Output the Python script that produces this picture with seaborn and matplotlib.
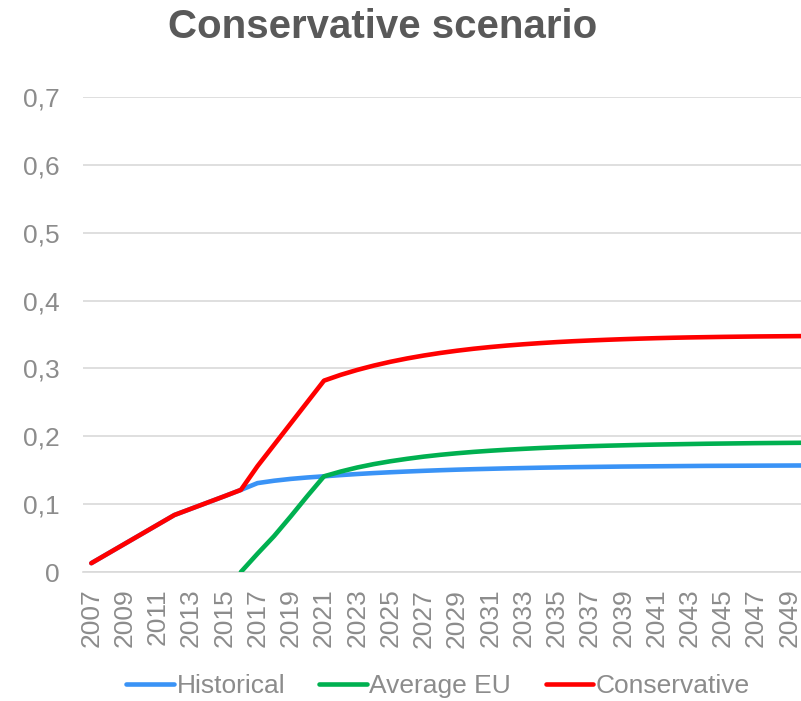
import numpy as np
import pandas as pd
import matplotlib
matplotlib.use("Agg")
import matplotlib.pyplot as plt
import seaborn as sns
from matplotlib.lines import Line2D

years = list(range(2007, 2051))

historical = [0.0130, 0.0272, 0.0414, 0.0556, 0.0698, 0.0840, 0.0932, 0.1024, 0.1116, 0.1210,
              0.1310, 0.1345, 0.1372, 0.1393, 0.1410, 0.1428, 0.1444, 0.1458, 0.1470, 0.1481,
              0.1491, 0.1500, 0.1508, 0.1515, 0.1521, 0.1527, 0.1532, 0.1537, 0.1541, 0.1545,
              0.1548, 0.1551, 0.1554, 0.1556, 0.1558, 0.1560, 0.1562, 0.1564, 0.1565, 0.1566,
              0.1567, 0.1568, 0.1569, 0.1570]

average_eu = [None] * 9 + [
              0.0000, 0.0270, 0.0530, 0.0820, 0.1120, 0.1410, 0.1480, 0.1540, 0.1590, 0.1632,
              0.1668, 0.1700, 0.1727, 0.1750, 0.1770, 0.1787, 0.1802, 0.1815, 0.1827, 0.1837,
              0.1846, 0.1854, 0.1861, 0.1867, 0.1873, 0.1878, 0.1882, 0.1886, 0.1890, 0.1893,
              0.1896, 0.1899, 0.1901, 0.1903, 0.1905]

conservative = [0.0130, 0.0272, 0.0414, 0.0556, 0.0698, 0.0840, 0.0932, 0.1024, 0.1116, 0.1210,
                0.1560, 0.1875, 0.2190, 0.2505, 0.2820, 0.2905, 0.2978, 0.3042, 0.3098, 0.3147,
                0.3190, 0.3228, 0.3261, 0.3290, 0.3315, 0.3337, 0.3356, 0.3373, 0.3388, 0.3401,
                0.3412, 0.3422, 0.3431, 0.3439, 0.3446, 0.3452, 0.3457, 0.3461, 0.3465, 0.3468,
                0.3471, 0.3473, 0.3475, 0.3477]

series_names = ["Historical", "Average EU", "Conservative"]
series_colors = ["#3A93F6", "#00B050", "#FF0000"]
y_ticks = [0, 0.1, 0.2, 0.3, 0.4, 0.5, 0.6, 0.7]
y_tick_labels = ["0", "0,1", "0,2", "0,3", "0,4", "0,5", "0,6", "0,7"]
x_ticks = list(range(2007, 2050, 2))
title = "Conservative scenario"

rows = []
for name, vals in zip(series_names, [historical, average_eu, conservative]):
    for yr, v in zip(years, vals):
        if v is not None:
            rows.append({"Year": yr, "Value": v, "Series": name})
df = pd.DataFrame(rows)

sns.set_theme(style="white")
plt.rcParams["font.family"] = ["Liberation Sans", "DejaVu Sans"]

fig = plt.figure(figsize=(8.01, 7.01), dpi=100)
ax = fig.add_axes([83 / 801, (701 - 572) / 701, (801 - 83) / 801, (572 - 97) / 701])

sns.lineplot(data=df, x="Year", y="Value", hue="Series", hue_order=series_names,
             palette=series_colors, linewidth=3.3, ax=ax, legend=False,
             solid_capstyle="round", solid_joinstyle="round", zorder=3)

ax.set_xlim(2006.5, 2049.7)
ax.set_ylim(0, 0.7)
ax.set_yticks(y_ticks)
ax.set_yticklabels(y_tick_labels)
ax.set_xticks(x_ticks)
ax.set_xticklabels([str(x) for x in x_ticks], rotation=90)
ax.tick_params(axis="y", length=0, pad=17, labelsize=19, labelcolor="#8C8C8C")
ax.tick_params(axis="x", length=0, pad=12, labelsize=19, labelcolor="#8C8C8C")
ax.set_xlabel("")
ax.set_ylabel("")
ax.grid(axis="y", color="#D9D9D9", linewidth=1.2, zorder=0)
ax.grid(axis="x", visible=False)
for s in ["top", "right", "left"]:
    ax.spines[s].set_visible(False)
ax.spines["bottom"].set_color("#D9D9D9")
ax.spines["bottom"].set_linewidth(1.2)
ax.set_axisbelow(True)

handles = [Line2D([0], [0], color=c, linewidth=3.3, solid_capstyle="round") for c in series_colors]
fig.legend(handles, series_names, loc="center", bbox_to_anchor=(438 / 801, 1 - 686 / 701),
           ncol=3, frameon=False, fontsize=19, labelcolor="#8C8C8C",
           handlelength=1.8, handletextpad=0.1, columnspacing=1.3)

fig.text(383 / 801, 1 - 27 / 701, title, ha="center", va="center",
         fontsize=29, fontweight="bold", color="#595959")

fig.savefig("out.png", dpi=100)
